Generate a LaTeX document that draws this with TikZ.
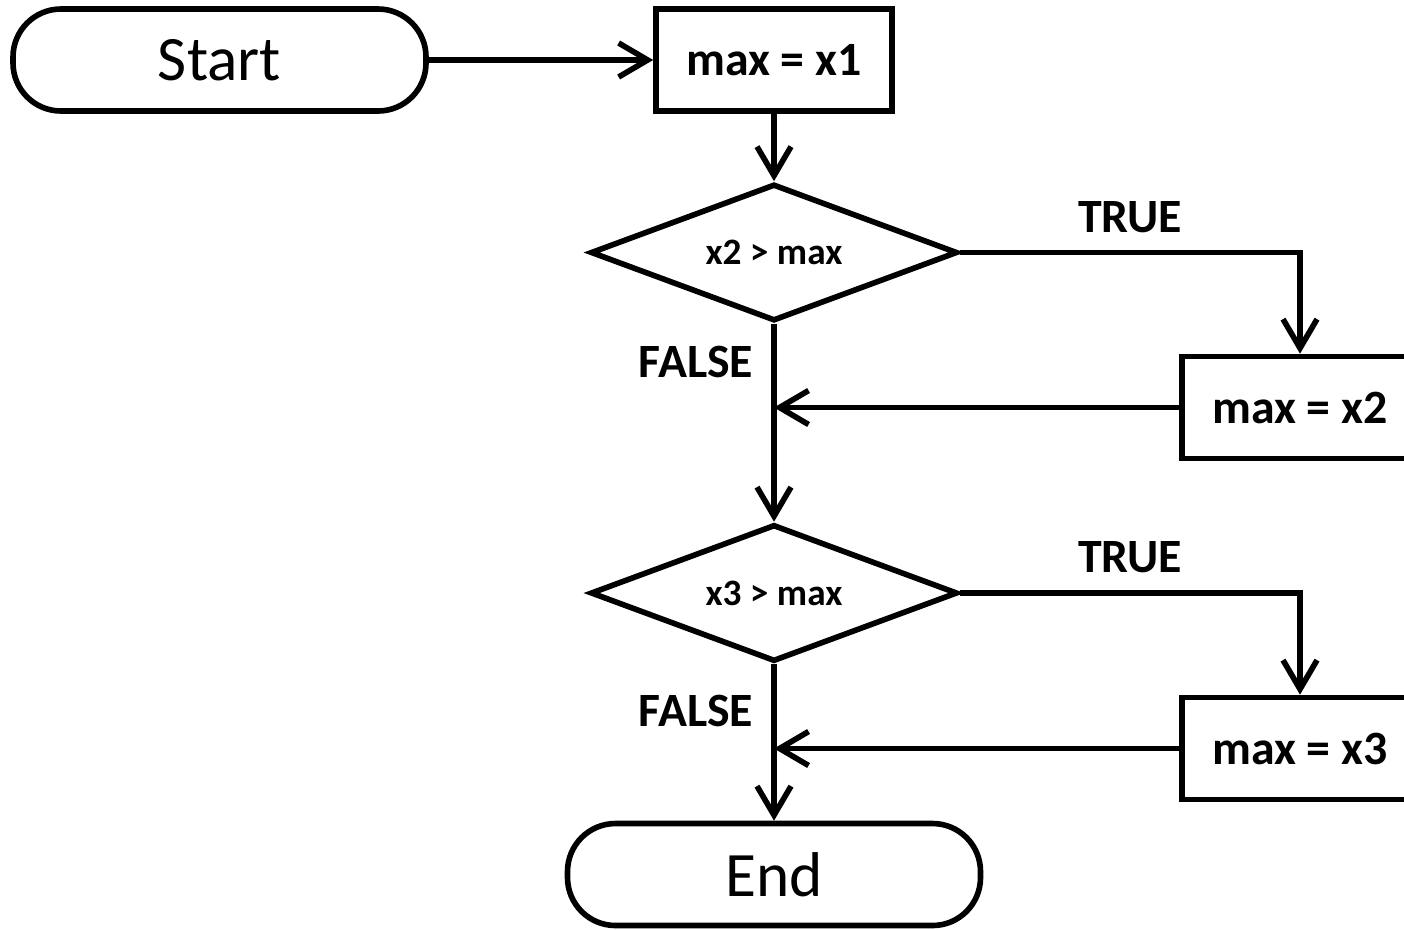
\documentclass[tikz,border=0pt]{standalone}
\usepackage{fontspec}
\setmainfont{Carlito}
\usetikzlibrary{arrows.meta,shapes.geometric}
\begin{document}
\begin{tikzpicture}[
  line width=1.6pt,
  arr/.style={-{Straight Barb[length=2.9mm,width=3.4mm]}},
  terminal/.style={draw, rounded corners=0.48cm, minimum width=4.13cm, minimum height=1.02cm, inner sep=0pt, font=\fontsize{18}{20}\selectfont},
  procbox/.style={draw, minimum width=2.36cm, minimum height=1.02cm, inner sep=0pt, font=\bfseries\fontsize{13.6}{15}\selectfont},
  decision/.style={draw, diamond, aspect=2.65, minimum width=3.67cm, minimum height=1.37cm, inner sep=0pt, font=\bfseries\fontsize{10.6}{12}\selectfont},
  lbl/.style={font=\bfseries\fontsize{13.6}{15}\selectfont, inner sep=0pt}
]
\useasboundingbox (0,0) rectangle (14.04,-9.29);
\node[terminal] (start) at (2.195,-0.60) {\raisebox{-0.15ex}{Start}};
\node[procbox] (b1) at (7.74,-0.60) {max = x1};
\node[decision] (d1) at (7.74,-2.525) {x2 > max};
\node[procbox] (b2) at (13.00,-4.075) {max = x2};
\node[decision] (d2) at (7.74,-5.93) {x3 > max};
\node[procbox] (b3) at (13.00,-7.485) {max = x3};
\node[terminal] (end) at (7.74,-8.745) {End};
\coordinate (m1) at (d1.south |- b2.west);
\coordinate (m2) at (d2.south |- b3.west);
\node[lbl] (t1) at (11.30,-2.17) {TRUE};
\node[lbl] (t2) at (11.30,-5.57) {TRUE};
\node[lbl] (f1) at (6.96,-3.62) {FALSE};
\node[lbl] (f2) at (6.96,-7.11) {FALSE};
\draw[arr] (start) -- (b1);
\draw[arr] (b1) -- (d1);
\draw[arr] (d1.east) -| (b2.north);
\draw[arr] (b2.west) -- (m1);
\draw[arr] (d1.south) -- (d2.north);
\draw[arr] (d2.east) -| (b3.north);
\draw[arr] (b3.west) -- (m2);
\draw[arr] (d2.south) -- (end.north);
\end{tikzpicture}
\end{document}
